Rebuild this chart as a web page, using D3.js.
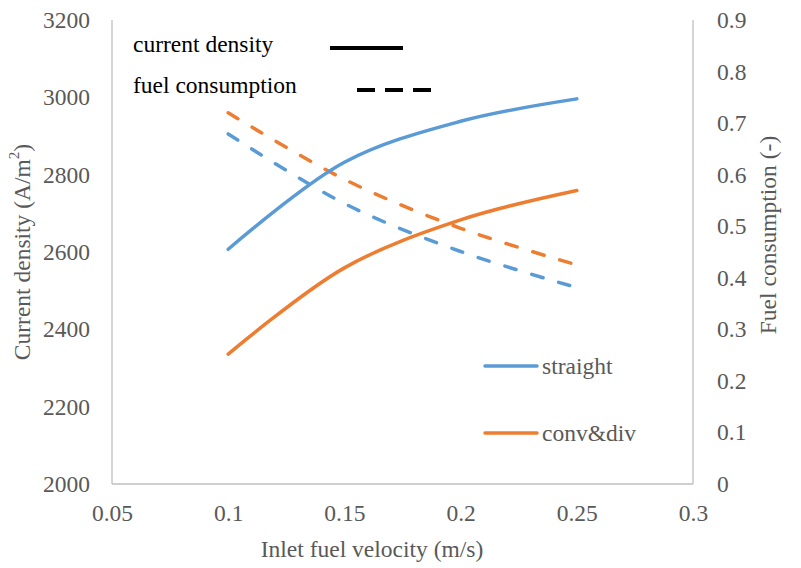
<!DOCTYPE html>
<html lang="en">
<head>
<meta charset="utf-8">
<title>Current density and fuel consumption</title>
<script src="https://d3js.org/d3.v7.min.js"></script>
<style>
  body { margin: 0; background: #fff; }
</style>
</head>
<body>
<div id="chart"></div>
<script>
// data
var velocity = [0.1, 0.15, 0.2, 0.25];
var currentStraight = [2607, 2832, 2938, 2996];
var currentConvDiv = [2336, 2559, 2683, 2759];
var fuelStraight = [0.679, 0.544, 0.451, 0.381];
var fuelConvDiv = [0.720, 0.591, 0.496, 0.425];

var xTicks = [0.05, 0.1, 0.15, 0.2, 0.25, 0.3];
var leftTicks = [2000, 2200, 2400, 2600, 2800, 3000, 3200];
var rightTicks = [0, 0.1, 0.2, 0.3, 0.4, 0.5, 0.6, 0.7, 0.8, 0.9];

var width = 801, height = 568;
var margin = {top: 20, right: 108, bottom: 84, left: 112};
var blue = "#5b9bd5", orange = "#ed7d31", grey = "#595959";
var fontSize = 23.5;
var serif = "Times New Roman, Tinos, Liberation Serif, Noto Serif, DejaVu Serif, FreeSerif, serif";

var svg = d3.select("#chart").append("svg")
  .attr("width", width)
  .attr("height", height)
  .style("font-family", serif);

var x = d3.scaleLinear().domain([0.05, 0.3]).range([margin.left, width - margin.right]);
var yLeft = d3.scaleLinear().domain([2000, 3200]).range([height - margin.bottom, margin.top]);
var yRight = d3.scaleLinear().domain([0, 0.9]).range([height - margin.bottom, margin.top]);

// frame: left, bottom and right axis lines
var frame = svg.append("g").attr("stroke", "#bfbfbf").attr("stroke-width", 1.3).attr("fill", "none");
frame.append("line").attr("x1", x(0.05)).attr("x2", x(0.05)).attr("y1", yLeft(3200)).attr("y2", yLeft(2000));
frame.append("line").attr("x1", x(0.05)).attr("x2", x(0.3)).attr("y1", yLeft(2000)).attr("y2", yLeft(2000));
frame.append("line").attr("x1", x(0.3)).attr("x2", x(0.3)).attr("y1", yRight(0.9)).attr("y2", yRight(0));

// axes (labels only, no tick marks)
var xAxis = d3.axisBottom(x).tickValues(xTicks).tickSize(0).tickPadding(20).tickFormat(d3.format("~g"));
var gx = svg.append("g").attr("transform", `translate(0,${yLeft(2000)})`).call(xAxis);

var leftAxis = d3.axisLeft(yLeft).tickValues(leftTicks).tickSize(0).tickPadding(22).tickFormat(d3.format("d"));
var gl = svg.append("g").attr("transform", `translate(${x(0.05)},0)`).call(leftAxis);

var rightAxis = d3.axisRight(yRight).tickValues(rightTicks).tickSize(0).tickPadding(24).tickFormat(d3.format("~g"));
var gr = svg.append("g").attr("transform", `translate(${x(0.3)},0)`).call(rightAxis);

[gx, gl, gr].forEach(function(g) {
  g.attr("font-family", null).attr("font-size", null);
  g.select(".domain").remove();
  g.selectAll("text").attr("fill", grey);
});

svg.selectAll("text").style("font-size", fontSize + "px");

// axis titles
svg.append("text")
  .attr("x", 372).attr("y", 549)
  .attr("text-anchor", "middle").attr("dominant-baseline", "central")
  .attr("fill", grey).style("font-size", fontSize + "px")
  .text("Inlet fuel velocity (m/s)");

var lt = svg.append("text")
  .attr("transform", "translate(22,252) rotate(-90)")
  .attr("text-anchor", "middle").attr("dominant-baseline", "central")
  .attr("fill", grey).style("font-size", fontSize + "px");
lt.append("tspan").text("Current density (A/m");
lt.append("tspan").attr("baseline-shift", "super").style("font-size", "15px").text("2");
lt.append("tspan").text(")");

svg.append("text")
  .attr("transform", "translate(768,235) rotate(-90)")
  .attr("text-anchor", "middle").attr("dominant-baseline", "central")
  .attr("fill", grey).style("font-size", fontSize + "px")
  .text("Fuel consumption (-)");

// series
var curve = d3.curveCatmullRom.alpha(0.5);
var leftLine = d3.line().x((d, i) => x(velocity[i])).y(d => yLeft(d)).curve(curve);
var rightLine = d3.line().x((d, i) => x(velocity[i])).y(d => yRight(d)).curve(curve);

var series = [
  {values: fuelStraight, line: rightLine, color: blue, dash: "11.5,16.5"},
  {values: fuelConvDiv, line: rightLine, color: orange, dash: "11.5,16.5"},
  {values: currentStraight, line: leftLine, color: blue, dash: null},
  {values: currentConvDiv, line: leftLine, color: orange, dash: null}
];

svg.selectAll("path.series")
  .data(series)
  .join("path")
  .attr("class", "series")
  .attr("d", d => d.line(d.values))
  .attr("fill", "none")
  .attr("stroke", d => d.color)
  .attr("stroke-width", 3.5)
  .attr("stroke-linecap", "round")
  .attr("stroke-dasharray", d => d.dash);

// legend: line style
svg.append("text").attr("x", 133).attr("y", 52).attr("fill", "#000")
  .style("font-size", fontSize + "px").text("current density");
svg.append("line").attr("x1", 330).attr("x2", 403).attr("y1", 48).attr("y2", 48)
  .attr("stroke", "#000").attr("stroke-width", 4);
svg.append("text").attr("x", 133).attr("y", 93).attr("fill", "#000")
  .style("font-size", fontSize + "px").text("fuel consumption");
svg.append("line").attr("x1", 357).attr("x2", 431).attr("y1", 90).attr("y2", 90)
  .attr("stroke", "#000").attr("stroke-width", 4).attr("stroke-dasharray", "18,10");

// legend: channel type
var legend = [
  {name: "straight", color: blue, y: 366},
  {name: "conv&div", color: orange, y: 433}
];
var lg = svg.selectAll("g.legend").data(legend).join("g").attr("class", "legend");
lg.append("line")
  .attr("x1", 485).attr("x2", 537)
  .attr("y1", d => d.y).attr("y2", d => d.y)
  .attr("stroke", d => d.color).attr("stroke-width", 3.5).attr("stroke-linecap", "round");
lg.append("text")
  .attr("x", 542).attr("y", d => d.y)
  .attr("dominant-baseline", "central")
  .attr("fill", grey).style("font-size", fontSize + "px")
  .text(d => d.name);
</script>
</body>
</html>
